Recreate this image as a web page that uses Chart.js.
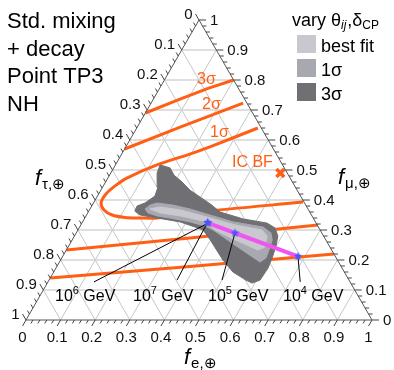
<!DOCTYPE html>
<html><head><meta charset="utf-8">
<script src="https://cdn.jsdelivr.net/npm/chart.js@4/dist/chart.umd.min.js"></script>
<style>html,body{margin:0;padding:0;background:#fff}canvas{display:block}</style>
</head><body>
<canvas id="c" width="394" height="370"></canvas>
<script>
// ---------- data (flavor fractions: fe = f_e, fm = f_mu; f_tau = 1 - fe - fm) ----------
const tickValues = [0,0.1,0.2,0.3,0.4,0.5,0.6,0.7,0.8,0.9,1];
const tickLabels = ['0','0.1','0.2','0.3','0.4','0.5','0.6','0.7','0.8','0.9','1'];
const gridValues = [0.1,0.2,0.3,0.4,0.5,0.6,0.7,0.8,0.9];

// IceCube contours (orange)
const sig3UpFe  = [0, 0.07, 0.14, 0.2];
const sig3UpFm  = [0.69, 0.732, 0.772, 0.8];
const sig2UpFe  = [0, 0.124, 0.266];
const sig2UpFm  = [0.57, 0.643, 0.723];
const sig2LoFe  = [0, 0.337, 0.685];
const sig2LoFm  = [0.233, 0.273, 0.317];
const sig3LoFe  = [0, 0.385, 0.78];
const sig3LoFm  = [0.14, 0.178, 0.22];
const sig1Fe = [0.35,0.243,0.197,0.120,0.055,0.034,0.021,0.022,0.042,0.074,0.115,0.159,0.209,0.323,0.604];
const sig1Fm = [0.64,0.577,0.553,0.517,0.473,0.447,0.42,0.39,0.367,0.35,0.342,0.34,0.34,0.36,0.393];
const icBfFe = [0.49];
const icBfFm = [0.49];
const sigmaLabels = ['3σ','2σ','1σ'];

// regions from varying mixing parameters
const darkFe = [0.129,0.163,0.186,0.221,0.257,0.298,0.339,0.381,0.459,0.535,0.566,0.588,0.599,0.608,0.613,0.610,0.592,0.569,0.518,0.469,0.399,0.362,0.333,0.282,0.209,0.155,0.133,0.131,0.149,0.166,0.160,0.134];
const darkFm = [0.517,0.507,0.483,0.46,0.433,0.41,0.387,0.36,0.337,0.323,0.307,0.28,0.247,0.207,0.173,0.133,0.123,0.133,0.16,0.2,0.267,0.3,0.31,0.327,0.34,0.35,0.363,0.38,0.39,0.413,0.443,0.49];
const medFe = [0.159,0.167,0.184,0.233,0.289,0.333,0.435,0.530,0.563,0.578,0.584,0.590,0.580,0.484,0.391,0.361,0.311,0.246,0.205,0.174];
const medFm = [0.37,0.383,0.39,0.383,0.37,0.357,0.327,0.31,0.29,0.267,0.243,0.207,0.193,0.247,0.3,0.313,0.327,0.34,0.347,0.357];
const lightFe = [0.173,0.199,0.262,0.338,0.446,0.532,0.557,0.569,0.554,0.471,0.396,0.347,0.272,0.209];
const lightFm = [0.37,0.377,0.367,0.347,0.317,0.3,0.28,0.243,0.233,0.267,0.3,0.33,0.347,0.357];
const legendLabels = ['best fit','1σ','3σ'];

// best-fit track vs energy
const energyExp = [7,6,5,4];
const starFe = [0.362,0.365,0.459,0.680];
const starFm = [0.325,0.323,0.290,0.212];
const anchorFe = [0.370,0.133,0.500,0.729];
const anchorFm = [0.133,0.127,0.133,0.127];

const titleLines = ['Std. mixing','+ decay','Point TP3','NH'];

// ---------- helpers ----------
const S = Math.sqrt(3)/2;
const toXY = (fe, fm) => ({x: fe + fm/2, y: fm*S});
const pts = (fe, fm, close) => { const a = fe.map((v,i)=>toXY(v, fm[i])); if (close) a.push(a[0]); return a; };
const FONT = '"Liberation Sans", Arial, sans-serif';
const ORANGE = '#ff5f14';
const C_LIGHT = '#c8c8ce', C_MED = '#a8a8b1', C_DARK = '#6f6f74';

const lineDS = (fe, fm, order, tension) => ({data: pts(fe,fm), borderColor: ORANGE, borderWidth: 3, pointRadius: 0, fill:false, tension: tension||0, order, clip:false});
const polyDS = (fe, fm, color, order) => ({data: pts(fe,fm,true), borderColor: color, backgroundColor: color, borderWidth: 1, pointRadius: 0, fill: 'shape', order, clip:false});

function makeStar(r, color){
  const c = document.createElement('canvas'); c.width = c.height = 2*r+2;
  const g = c.getContext('2d'); g.fillStyle = color; g.beginPath();
  for (let i=0;i<10;i++){ const a = -Math.PI/2 + i*Math.PI/5; const rr = i%2? r*0.45 : r;
    g.lineTo(r+1+rr*Math.cos(a), r+1+rr*Math.sin(a)); }
  g.closePath(); g.fill(); return c;
}
const starImg = makeStar(4.5, '#4a55ff');

const datasets = [
  lineDS(sig3UpFe, sig3UpFm, 20), lineDS(sig2UpFe, sig2UpFm, 20),
  lineDS(sig2LoFe, sig2LoFm, 20), lineDS(sig3LoFe, sig3LoFm, 20),
  lineDS(sig1Fe, sig1Fm, 20, 0.3),
  polyDS(darkFe, darkFm, C_DARK, 12),
  polyDS(medFe, medFm, C_MED, 11),
  polyDS(lightFe, lightFm, C_LIGHT, 10),
  {data: pts(starFe, starFm), borderColor:'#f055f0', borderWidth:4, pointRadius:0, fill:false, order:5, clip:false},
];
energyExp.forEach((e,i)=>{
  datasets.push({data:[toXY(anchorFe[i],anchorFm[i]), toXY(starFe[i],starFm[i])], borderColor:'#000', borderWidth:1, pointRadius:0, fill:false, order:4, clip:false});
});
datasets.push({data: pts(starFe, starFm), showLine:false, pointStyle: starImg, pointRadius:5, order:2, clip:false});
datasets.push({data: pts(icBfFe, icBfFm), showLine:false, pointStyle:'crossRot', pointRadius:5.5, pointBorderWidth:3.5, pointBorderColor:ORANGE, borderColor:ORANGE, order:1, clip:false});

function drawRuns(ctx, x, y, runs){
  runs.forEach(r=>{ ctx.font = r.f; ctx.fillText(r.t, x, y + (r.dy||0)); x += ctx.measureText(r.t).width + (r.gap||0); });
}

const ternary = {
  id:'ternary',
  beforeDatasetsDraw(chart){
    const ctx = chart.ctx, xs = chart.scales.x, ys = chart.scales.y;
    const P = (fe,fm)=>[xs.getPixelForValue(fe+fm/2), ys.getPixelForValue(fm*S)];
    const ln = (a,b,col,w)=>{ctx.strokeStyle=col; ctx.lineWidth=w; ctx.beginPath(); ctx.moveTo(a[0],a[1]); ctx.lineTo(b[0],b[1]); ctx.stroke();};
    ctx.save();
    gridValues.forEach(k=>{
      ln(P(0,k), P(1-k,k), '#d4d4d4', 1.5);
      ln(P(k,0), P(k,1-k), '#c6c6c6', 1);
      ln(P(1-k,0), P(0,1-k), '#c6c6c6', 1);
    });
    ctx.restore();
  },
  afterDatasetsDraw(chart){
    const ctx = chart.ctx, xs = chart.scales.x, ys = chart.scales.y;
    const P = (fe,fm)=>[xs.getPixelForValue(fe+fm/2), ys.getPixelForValue(fm*S)];
    ctx.save();
    // triangle edges
    ctx.strokeStyle = '#555'; ctx.lineWidth = 1;
    const A=P(0,0), B=P(1,0), C=P(0,1);
    ctx.beginPath(); ctx.moveTo(A[0],A[1]); ctx.lineTo(B[0],B[1]); ctx.lineTo(C[0],C[1]); ctx.closePath(); ctx.stroke();
    // ticks
    const dirs = {b:[-0.5,S], r:[1,0], l:[-0.5,-S]};
    ctx.strokeStyle = '#444'; ctx.fillStyle = '#111'; ctx.font = '15px ' + FONT;
    for (let i=0;i<=50;i++){
      const v = i/50, major = i%5===0, len = major?7:4;
      const items = [['b',P(v,0)],['r',P(1-v,v)],['l',P(0,1-v)]];
      items.forEach(([k,p])=>{
        const d = dirs[k], e=[p[0]+d[0]*len, p[1]+d[1]*len];
        ctx.beginPath(); ctx.moveTo(p[0],p[1]); ctx.lineTo(e[0],e[1]); ctx.stroke();
        if (major){
          const lab = tickLabels[i/5];
          if (k==='b'){ ctx.textAlign='center'; ctx.textBaseline='top'; ctx.fillText(lab, e[0], e[1]+4); }
          if (k==='r'){ ctx.textAlign='left'; ctx.textBaseline='middle'; ctx.fillText(lab, e[0]+4, e[1]+1); }
          if (k==='l'){ ctx.textAlign='right'; ctx.textBaseline='middle'; ctx.fillText(lab, e[0]-3, e[1]+1); }
        }
      });
    }
    ctx.textAlign='left'; ctx.textBaseline='alphabetic';
    // title
    ctx.fillStyle = '#000';
    ctx.font = '22px ' + FONT;
    titleLines.forEach((t,i)=> ctx.fillText(t, 7, 28 + i*27.7));
    // legend
    drawRuns(ctx, 292, 26, [{t:'vary θ', f:'18px '+FONT},{t:'ij', f:'italic 12px '+FONT, dy:3, gap:1},{t:',δ', f:'18px '+FONT},{t:'CP', f:'12px '+FONT, dy:3}]);
    const cols = [C_LIGHT, C_MED, C_DARK];
    legendLabels.forEach((t,i)=>{
      ctx.fillStyle = cols[i]; ctx.fillRect(297, 35 + i*24, 19, 18);
      ctx.fillStyle = '#000'; ctx.font = '18px ' + FONT; ctx.fillText(t, 321, 52 + i*24);
    });
    // axis titles
    const axTitle = (x,y,sub)=> drawRuns(ctx, x, y, [{t:'f', f:'italic 22px '+FONT, gap:1},{t:sub, f:'15px '+FONT, dy:4}]);
    axTitle(35, 185, 'τ,⊕');
    axTitle(338, 184, 'μ,⊕');
    axTitle(184, 364, 'e,⊕');
    // orange labels
    ctx.fillStyle = ORANGE; ctx.font = '16px ' + FONT;
    const sigPos = [[197,84],[202,109],[210,137]];
    sigmaLabels.forEach((t,i)=> ctx.fillText(t, sigPos[i][0], sigPos[i][1]));
    ctx.fillText('IC BF', 232, 167);
    // energy labels
    ctx.fillStyle = '#000';
    const ePos = [133, 55, 208, 283];
    energyExp.forEach((e,i)=> drawRuns(ctx, ePos[i], 301, [{t:'10', f:'16px '+FONT},{t:String(e), f:'11px '+FONT, dy:-7},{t:' GeV', f:'16px '+FONT}]));
    ctx.restore();
  }
};

new Chart(document.getElementById('c'), {
  type:'line',
  data:{datasets},
  options:{
    responsive:false, animation:false,
    layout:{padding:{left:26, right:22, top:20, bottom:50}},
    plugins:{legend:{display:false}, tooltip:{enabled:false}},
    scales:{
      x:{type:'linear', min:0, max:1, display:false},
      y:{type:'linear', min:0, max:S, display:false}
    }
  },
  plugins:[ternary]
});
</script>
</body></html>
